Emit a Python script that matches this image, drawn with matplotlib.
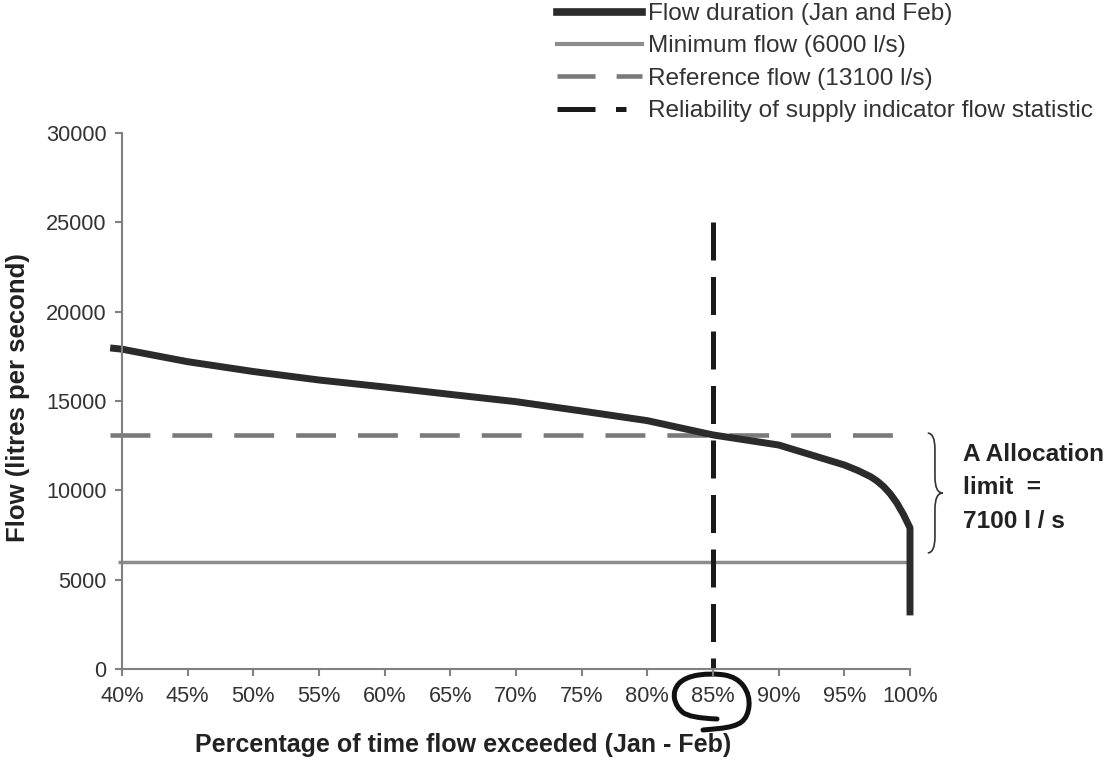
import matplotlib
matplotlib.use("Agg")
import matplotlib.pyplot as plt
from matplotlib.lines import Line2D
from matplotlib.path import Path
from matplotlib.patches import PathPatch
from matplotlib.transforms import Affine2D, ScaledTranslation
from matplotlib.ticker import FuncFormatter

plt.rcParams['font.family'] = ['Liberation Sans', 'DejaVu Sans']

# flow duration curve (percent of time exceeded, l/s)
pct_exceeded = [39.1, 40, 45, 50, 55, 60, 65, 70, 75, 80, 85, 90, 95, 96, 97,
                97.5, 98, 98.5, 99, 99.5, 100, 100]
flow = [17970, 17900, 17200, 16650, 16175, 15784, 15370, 14962, 14440, 13900,
        13100, 12537, 11418, 11120, 10764, 10520, 10205, 9800, 9290, 8650,
        7900, 3000]

min_flow = 6000
min_flow_x = [39.7, 100]
ref_flow = 13100
ref_flow_x = [39.1, 100]
reliability_pct = 85
reliability_top = 25000

x_ticks = [40, 45, 50, 55, 60, 65, 70, 75, 80, 85, 90, 95, 100]
y_ticks = [0, 5000, 10000, 15000, 20000, 25000, 30000]

labels = ['Flow duration (Jan and Feb)', 'Minimum flow (6000 l/s)',
          'Reference flow (13100 l/s)',
          'Reliability of supply indicator flow statistic']

fig = plt.figure(figsize=(11.2, 7.63), dpi=100)
ax = fig.add_axes([122 / 1120, 94 / 763, 788 / 1120, 536 / 763])

c_flow = '#2b2b2b'
c_min = '#8c8c8c'
c_ref = '#7a7a7a'
c_rel = '#1a1a1a'

ax.plot(min_flow_x, [min_flow, min_flow], color=c_min, lw=2.5, clip_on=False,
        solid_capstyle='butt')
ax.plot(ref_flow_x, [ref_flow, ref_flow], color=c_ref, lw=3.3, clip_on=False,
        dashes=(8.7, 4.8))
ax.plot([reliability_pct, reliability_pct], [reliability_top, 0], color=c_rel,
        lw=3.6, dashes=(7.6, 3.3), dash_capstyle='butt')
ax.plot(pct_exceeded, flow, color=c_flow, lw=5, clip_on=False,
        solid_joinstyle='round', solid_capstyle='butt')

ax.set_xlim(40, 100)
ax.set_ylim(0, 30000)
ax.set_xticks(x_ticks)
ax.set_yticks(y_ticks)
ax.xaxis.set_major_formatter(FuncFormatter(lambda v, p: '%d%%' % v))
for s in ['top', 'right']:
    ax.spines[s].set_visible(False)
for s in ['left', 'bottom']:
    ax.spines[s].set_color('#808080')
    ax.spines[s].set_linewidth(1.5)
ax.tick_params(axis='both', colors='#808080', width=1.5, length=5,
               labelsize=15.7, labelcolor='#333333')
ax.tick_params(axis='x', pad=7)
ax.tick_params(axis='y', pad=6)

fig.text(18 / 1120, 1 - 398 / 763, 'Flow (litres per second)', rotation=90,
         ha='center', va='center', fontsize=18.5, fontweight='bold',
         color='#222222')
fig.text(463 / 1120, 1 - 745 / 763,
         'Percentage of time flow exceeded (Jan - Feb)', ha='center',
         va='center', fontsize=18, fontweight='bold', color='#222222')

# curly brace marking the allocation band between the two reference lines
x0, x1, x2 = 101.35, 101.9, 102.5
ytop, ybot = 13200, 6500
ymid = (ytop + ybot) / 2
r = 900
verts = [(x0, ytop), (x1, ytop), (x1, ytop - r),
         (x1, ymid + r), (x1, ymid), (x2, ymid),
         (x1, ymid), (x1, ymid - r),
         (x1, ybot + r), (x1, ybot), (x0, ybot)]
codes = [Path.MOVETO, Path.CURVE3, Path.CURVE3,
         Path.LINETO, Path.CURVE3, Path.CURVE3,
         Path.CURVE3, Path.CURVE3,
         Path.LINETO, Path.CURVE3, Path.CURVE3]
ax.add_patch(PathPatch(Path(verts, codes), fill=False, lw=1.2,
                       edgecolor='#333333', clip_on=False))
ax.text(104.0, 10150, 'A Allocation\nlimit  =\n7100 l / s', fontsize=17.6,
        fontweight='bold', color='#222222', ha='left', va='center',
        linespacing=1.58, clip_on=False)

# hand-drawn loop around the 85% tick label (pixel offsets from the tick)
loop = [(4, -50), (-23, -49), (-37, -38), (-40, -21), (-28, -8), (-1, -4),
        (24, -8), (37, -26), (35, -48), (22, -58), (-10, -61)]
lv = [loop[0]]
lc = [Path.MOVETO]
for i in range(1, len(loop) - 1):
    mid = ((loop[i][0] + loop[i + 1][0]) / 2, (loop[i][1] + loop[i + 1][1]) / 2)
    lv += [loop[i], mid]
    lc += [Path.CURVE3, Path.CURVE3]
lv.append(loop[-1])
lc.append(Path.LINETO)
loop_trans = Affine2D() + ScaledTranslation(reliability_pct, 0, ax.transData)
ax.add_patch(PathPatch(Path(lv, lc), fill=False, lw=3.6, edgecolor='#111111',
                       transform=loop_trans, clip_on=False,
                       capstyle='round', joinstyle='round'))

handles = [
    Line2D([], [], color=c_flow, lw=5.5),
    Line2D([], [], color=c_min, lw=3),
    Line2D([], [], color=c_ref, lw=3.3, dashes=(8.3, 4.6)),
    Line2D([], [], color=c_rel, lw=3.6, dashes=(7.6, 4.1, 2.1, 4.1)),
]
fig.legend(handles, labels, loc='upper left',
           bbox_to_anchor=(557 / 1120, 1 - 3 / 763), frameon=False,
           fontsize=17.6, handlelength=3.46, handletextpad=0.25,
           labelspacing=0.42, borderpad=0, borderaxespad=0,
           labelcolor='#333333')

fig.savefig('out.png', dpi=100)
